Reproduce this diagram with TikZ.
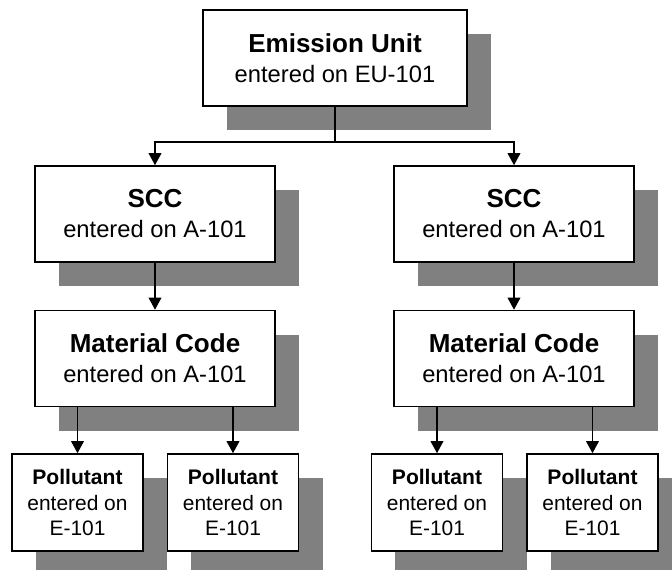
\documentclass[tikz,border=0pt]{standalone}
\usepackage{fontspec}
\setmainfont{Liberation Sans}
\usepackage{tikz}
\usetikzlibrary{arrows.meta,shadows}
\newcommand{\hdr}[1]{{\fontsize{19.5}{22.5}\selectfont\bfseries #1}}
\newcommand{\phdr}[1]{{\fontsize{15.8}{19}\selectfont\bfseries #1}}

\begin{document}
\begin{tikzpicture}[x=0.75pt, y=-0.75pt,
    box/.style={draw, line width=1.2pt, fill=white, inner sep=0pt, align=center,
        drop shadow={shadow xshift=18pt, shadow yshift=-18pt, fill=black!50, opacity=1},
        font=\fontsize{17.8}{22.5}\selectfont},
    bigbox/.style={box, minimum width=198pt, minimum height=72pt},
    midbox/.style={box, minimum width=180pt, minimum height=72pt},
    polbox/.style={box, minimum width=98.5pt, minimum height=72.75pt,
        font=\fontsize{15.7}{19}\selectfont},
    line/.style={line width=1pt},
    arrow/.style={line, -{Triangle[width=9.5pt,length=9pt]}}]
    \useasboundingbox (0,0) rectangle (672,569);

    % Top level
    \node[bigbox] (eu) at (335,58) {\hdr{Emission Unit}\\ entered on EU-101};

    % SCC level
    \node[midbox] (sccL) at (155,214) {\hdr{SCC}\\ entered on A-101};
    \node[midbox] (sccR) at (514,214) {\hdr{SCC}\\ entered on A-101};

    % Material code level
    \node[midbox] (matL) at (155,358.5) {\hdr{Material Code}\\ entered on A-101};
    \node[midbox] (matR) at (514,358.5) {\hdr{Material Code}\\ entered on A-101};

    % Pollutant level
    \node[polbox] (polA) at (77.5,502.5) {\phdr{Pollutant}\\ entered on\\ E-101};
    \node[polbox] (polB) at (233,502.5) {\phdr{Pollutant}\\ entered on\\ E-101};
    \node[polbox] (polC) at (437,502.5) {\phdr{Pollutant}\\ entered on\\ E-101};
    \node[polbox] (polD) at (592.5,502.5) {\phdr{Pollutant}\\ entered on\\ E-101};

    % Connectors
    \coordinate (bus) at (335,142);
    \draw[line] (eu.south) -- (bus);
    \draw[arrow] (bus) -| (sccL.north);
    \draw[arrow] (bus) -| (sccR.north);
    \draw[arrow] (sccL.south) -- (matL.north);
    \draw[arrow] (sccR.south) -- (matR.north);
    \draw[arrow] (polA.north |- matL.south) -- (polA.north);
    \draw[arrow] (polB.north |- matL.south) -- (polB.north);
    \draw[arrow] (polC.north |- matR.south) -- (polC.north);
    \draw[arrow] (polD.north |- matR.south) -- (polD.north);
\end{tikzpicture}
\end{document}
